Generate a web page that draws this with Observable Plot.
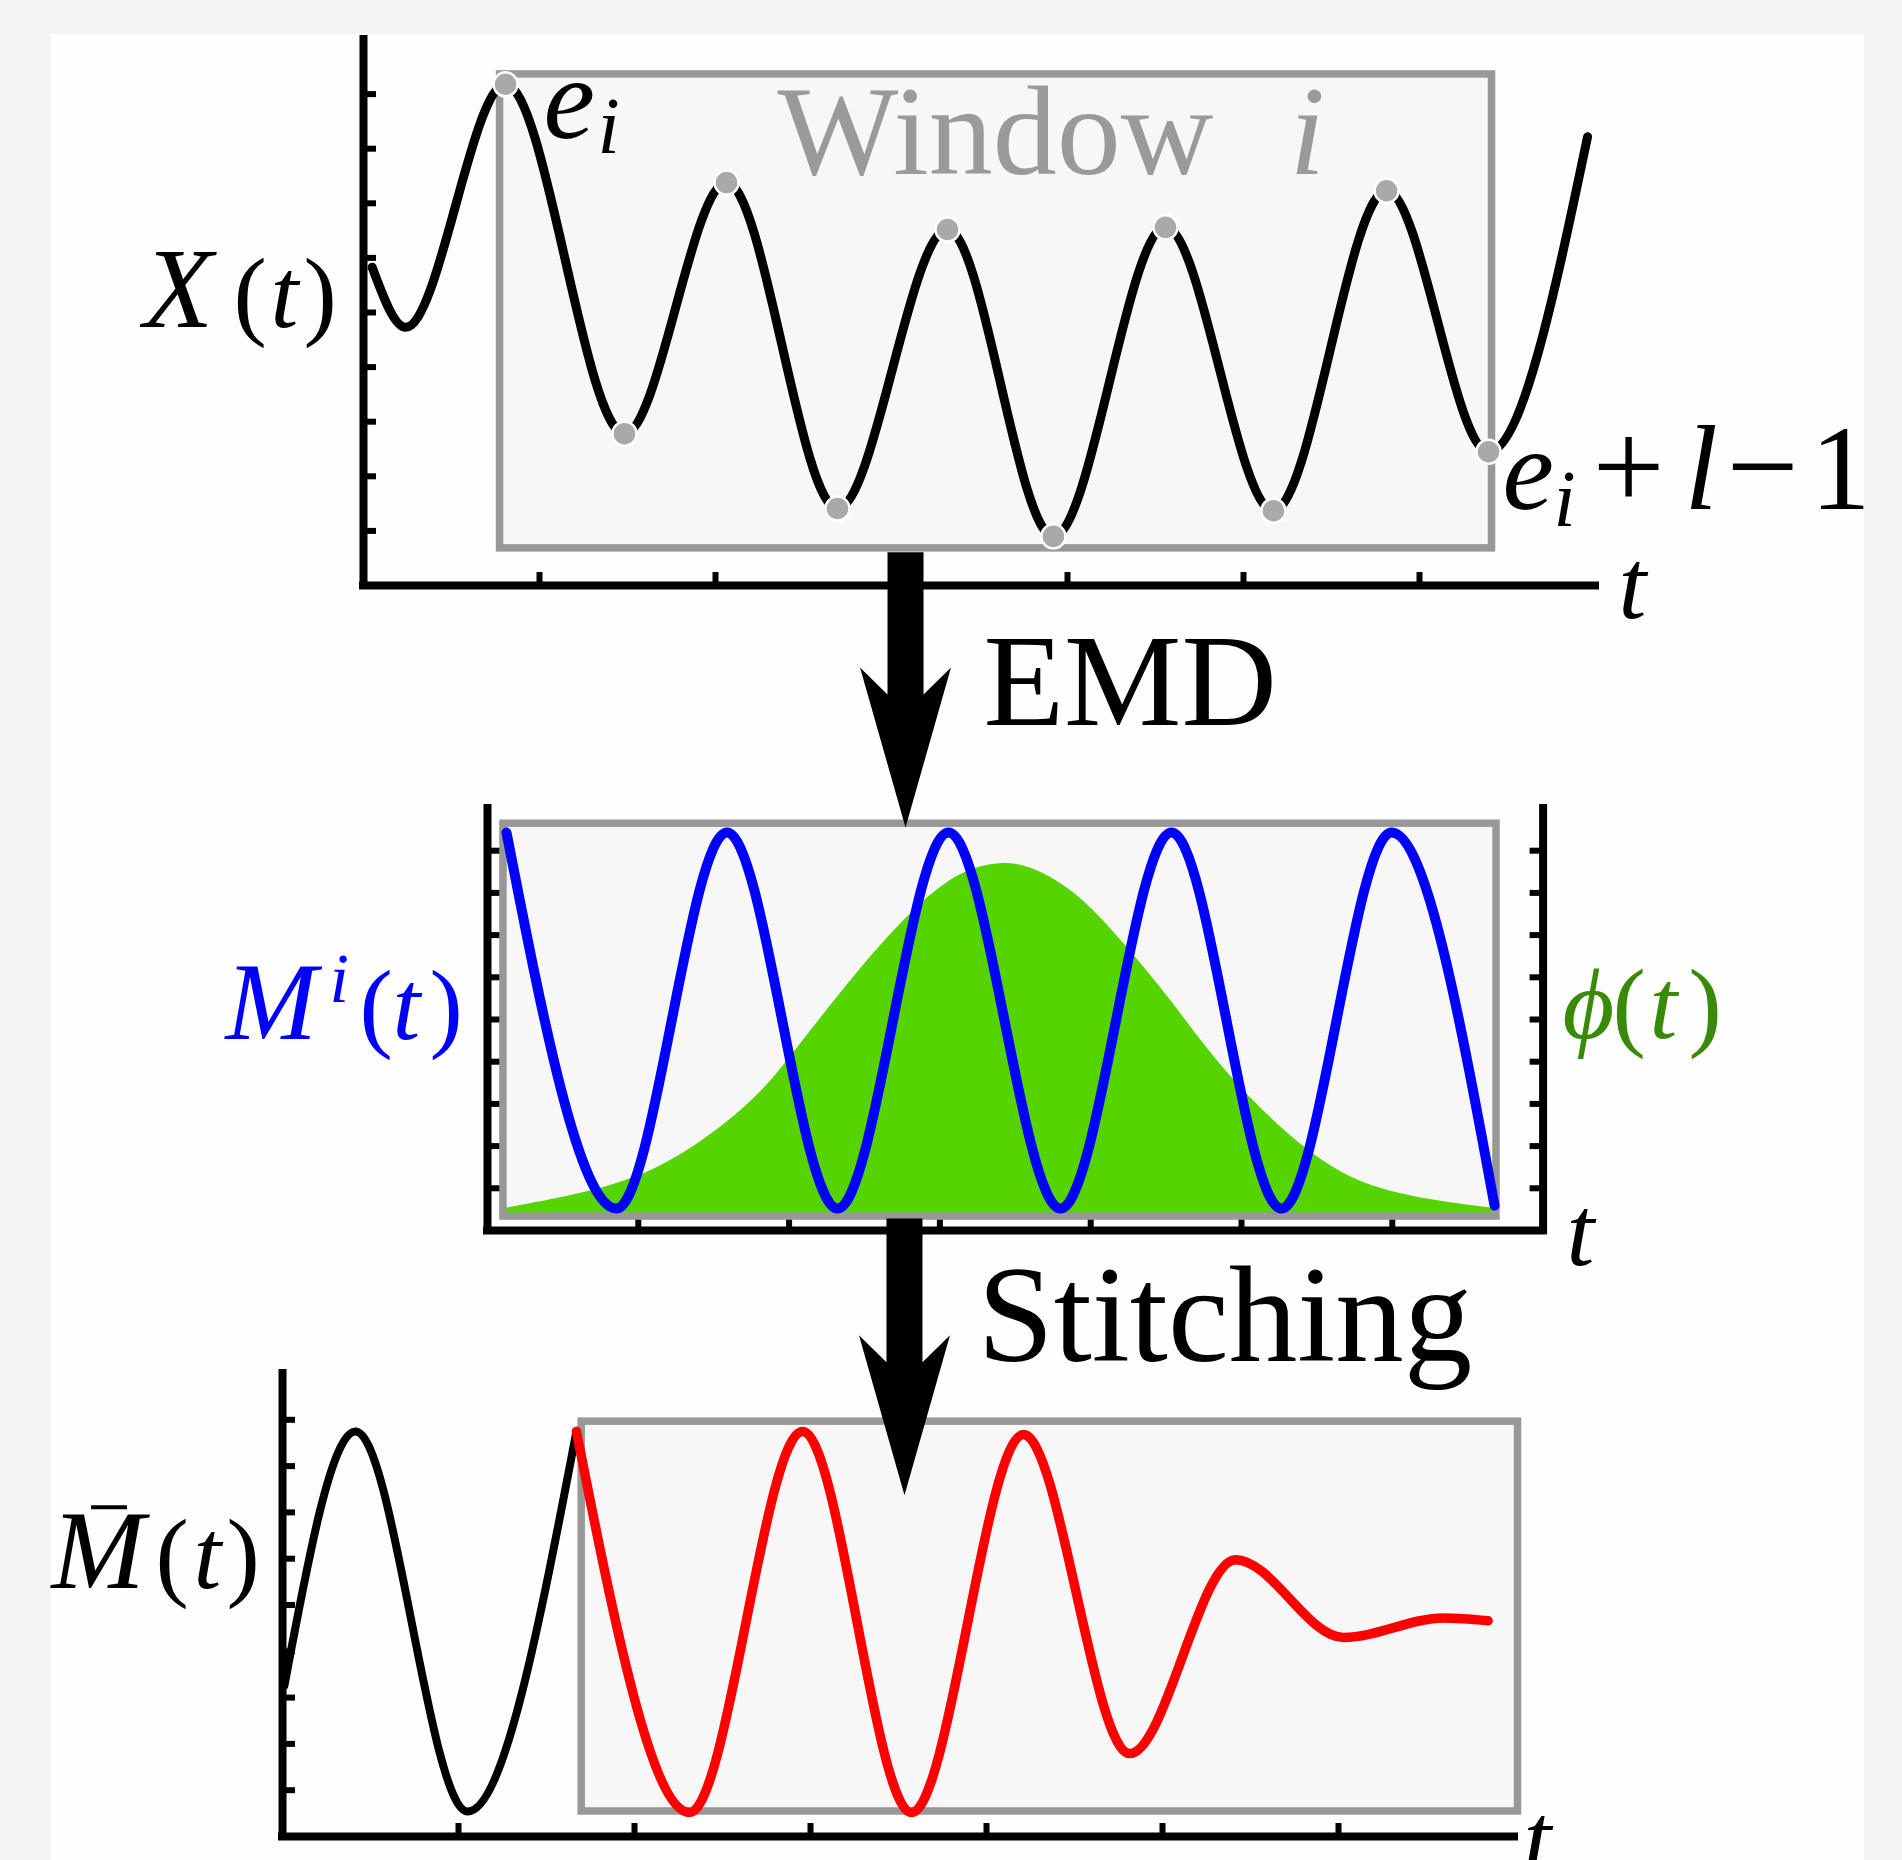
<!DOCTYPE html>
<html>
<head>
<meta charset="utf-8">
<script src="https://cdn.jsdelivr.net/npm/d3@7"></script>
<script src="https://cdn.jsdelivr.net/npm/@observablehq/plot@0.6"></script>
<style>
  html, body { margin: 0; padding: 0; background: #f4f4f4; }
  #page { position: relative; width: 1902px; height: 1860px; overflow: hidden; background: #f4f4f4; }
  #sheet { position: absolute; left: 51px; top: 34px; width: 1813px; height: 1826px; background: #fefefe; }
  .layer { position: absolute; left: 0; top: 0; width: 1902px; height: 1860px; }
  .layer svg { background: transparent !important; overflow: visible; max-width: none !important; }
</style>
</head>
<body>
<div id="page"><div id="sheet"></div></div>
<script>
// ---------------- data ----------------
const tTicks = [1, 2, 3, 4, 5, 6];
const yTicks = [1, 2, 3, 4, 5, 6, 7, 8, 9];

// Panel 1: signal X(t) (sampled at its turning points)
const signalT = [0.049, 0.239, 0.807, 1.483, 2.063, 2.693, 3.318, 3.920, 4.557, 5.170, 5.813, 6.392, 6.955];
const signalV = [5.83, 4.73, 9.18, 2.78, 7.38, 1.41, 6.52, 0.90, 6.56, 1.37, 7.23, 2.45, 8.22];
const windowFirst = 2;   // e_i
const windowLast = 11;   // e_i + l - 1
const windowTop = {t1: 0.776, t2: 6.412, y1: 0.68, y2: 9.36};

// Panel 2: IMF M^i(t) and weight phi(t)
const imfT = [0.126, 0.855, 1.588, 2.321, 3.057, 3.800, 4.536, 5.265, 5.995, 6.678];
const imfV = [9.43, 0.52, 9.43, 0.52, 9.43, 0.52, 9.43, 0.52, 9.43, 0.59];
const phiT = [0.113, 0.869, 1.326, 1.777, 2.009, 2.467, 2.878, 3.150, 3.402, 3.607, 3.926, 4.244, 4.523, 4.887, 5.431, 5.889, 6.678];
const phiV = [0.52, 1.02, 1.82, 3.08, 4.10, 6.23, 7.82, 8.53, 8.74, 8.65, 7.99, 6.71, 5.52, 3.72, 1.82, 0.88, 0.52];
const windowMid = {t1: 0.106, t2: 6.691, y1: 0.33, y2: 9.64};

// Panel 3: stitched mode
const prevT = [0.011, 0.415, 1.051, 1.670];
const prevV = [3.26, 8.75, 0.54, 8.75];
const stitchT = [1.670, 2.313, 2.955, 3.574, 4.210, 4.813, 5.415, 6.028, 6.600, 6.850];
const stitchV = [8.75, 0.52, 8.75, 0.52, 8.68, 1.79, 5.98, 4.30, 4.72, 4.66];
const windowBot = {t1: 1.70, t2: 7.02, y1: 0.54, y2: 8.96};

// ---------------- helpers ----------------
const W = 1902, H = 1860;
const SERIF = "'Liberation Serif', 'Times New Roman', serif";
const BOX_FILL = "#f7f7f7", BOX_STROKE = "#989898";
const zip = (ts, vs) => ts.map((t, i) => ({t, v: vs[i]}));

function panel(L, marks) {
  const svg = Plot.plot({
    width: W, height: H,
    marginLeft: L.left, marginRight: W - L.right, marginTop: L.top, marginBottom: H - L.bottom,
    x: {domain: [0, 7], axis: null},
    y: {domain: [0, 10], axis: null},
    marks
  });
  svg.style.background = "transparent";
  svg.style.overflow = "visible";
  const div = document.createElement("div");
  div.className = "layer";
  div.appendChild(svg);
  document.getElementById("page").appendChild(div);
  return svg;
}

function axes(L, right) {
  const fw = L.right - L.left, fh = L.bottom - L.top, len = 13;
  const tk = {stroke: "black", strokeWidth: 6};
  const ax = {stroke: "black", strokeWidth: 8, strokeLinecap: "square"};
  return [
    Plot.tickX(tTicks, {x: d => d, insetTop: fh - len, ...tk}),
    Plot.tickY(yTicks, {y: d => d, insetRight: fw - len, ...tk}),
    right ? Plot.tickY(yTicks, {y: d => d, insetLeft: fw - len, ...tk}) : null,
    Plot.ruleX([0], ax),
    right ? Plot.ruleX([7], ax) : null,
    Plot.ruleY([0], ax)
  ];
}

function label(x, y, fill, parts) {
  return parts.map(([s, dx, dy, size, italic]) =>
    Plot.text([{x, y, s}], {
      x: "x", y: "y", text: "s", dx, dy,
      fontSize: size, fontStyle: italic ? "italic" : "normal", fontFamily: SERIF,
      fill, textAnchor: "start", lineAnchor: "bottom"
    }));
}

// filled arrow pointing down, shaft from yTop to tip yTip (data units), sizes in px
function arrow(cx, yTop, yTip, kx, ky) {
  const sh = 18 / kx, hh = 45.5 / kx, corner = 160 / ky, notch = 133 / ky;
  const pts = [
    [cx - sh, yTop], [cx + sh, yTop], [cx + sh, yTip + notch], [cx + hh, yTip + corner],
    [cx, yTip], [cx - hh, yTip + corner], [cx - sh, yTip + notch]
  ].map(([x, y]) => ({x, y}));
  return Plot.line(pts, {x: "x", y: "y", fill: "black", stroke: "none", curve: "linear"});
}

// ---------------- panel 1 ----------------
const P1 = {left: 363, right: 1595, top: 39, bottom: 585};
const sig = zip(signalT, signalV);
panel(P1, [
  ...axes(P1, false),
  Plot.rect([windowTop], {x1: "t1", x2: "t2", y1: "y1", y2: "y2", fill: BOX_FILL, stroke: BOX_STROKE, strokeWidth: 7.5}),
  Plot.line(sig, {x: "t", y: "v", curve: "monotone-x", stroke: "black", strokeWidth: 9}),
  Plot.dot(sig.slice(windowFirst, windowLast + 1), {x: "t", y: "v", r: 12, fill: "#a9a9a9", stroke: "white", strokeWidth: 2.5}),
  ...label(2.352, 7.53, "#9a9a9a", [["Window", 0, 0, 128, false], ["i", 512, 0, 128, true]]),
  ...label(1.023, 8.19, "black", [["e", 0, 0, 116, true], ["i", 54, 15, 80, true]]),
  ...label(6.472, 1.41, "black", [
    ["e", 0, 0, 116, true], ["i", 51, 17, 80, true], ["+", 90, 0, 128, false],
    ["l", 182, 0, 120, true], ["\u2212", 224, 0, 128, false], ["1", 308, 0, 120, false]
  ]),
  ...label(-1.25, 4.74, "black", [["X", 0, 0, 114, true], ["(", 90, 0, 100, false], ["t", 127, 0, 100, true], [")", 160, 0, 100, false]]),
  ...label(7.131, -0.60, "black", [["t", 0, 0, 100, true]])
]);

// ---------------- panel 2 ----------------
const P2 = {left: 487, right: 1542.6, top: 808, bottom: 1230};
const k2x = (P2.right - P2.left) / 7, k2y = (P2.bottom - P2.top) / 10;
panel(P2, [
  ...axes(P2, true),
  Plot.rect([windowMid], {x1: "t1", x2: "t2", y1: "y1", y2: "y2", fill: BOX_FILL}),
  Plot.areaY(zip(phiT, phiV), {x: "t", y1: windowMid.y1, y2: "v", fill: "#55d400", curve: "basis"}),
  Plot.rect([windowMid], {x1: "t1", x2: "t2", y1: "y1", y2: "y2", fill: "none", stroke: BOX_STROKE, strokeWidth: 7.5}),
  Plot.line(zip(imfT, imfV), {x: "t", y: "v", curve: "monotone-x", stroke: "#0000ff", strokeWidth: 10}),
  arrow(2.772, 16.07, 9.55, k2x, k2y),
  ...label(3.289, 11.99, "black", [["EMD", 0, 0, 132, false]]),
  ...label(-1.737, 4.53, "#0000ff", [["M", 0, 0, 110, true], ["i", 104, -37, 70, true], ["(", 134, 0, 100, false], ["t", 167, 0, 100, true], [")", 204, 0, 100, false]]),
  ...label(7.129, 4.57, "#3a8a0a", [["\u03D5", 0, 0, 100, true], ["(", 50, 0, 100, false], ["t", 87, 0, 100, true], [")", 126, 0, 100, false]]),
  ...label(7.155, -0.81, "black", [["t", 0, 0, 100, true]])
]);

// ---------------- panel 3 ----------------
const P3 = {left: 282, right: 1514, top: 1373, bottom: 1836};
const k3x = (P3.right - P3.left) / 7, k3y = (P3.bottom - P3.top) / 10;
panel(P3, [
  ...axes(P3, false),
  Plot.rect([windowBot], {x1: "t1", x2: "t2", y1: "y1", y2: "y2", fill: BOX_FILL, stroke: BOX_STROKE, strokeWidth: 7.5}),
  arrow(3.534, 13.35, 7.37, k3x, k3y),
  ...label(3.949, 10.26, "black", [["Stitching", 0, 0, 137, false]]),
  Plot.line(zip(prevT, prevV), {x: "t", y: "v", curve: "monotone-x", stroke: "black", strokeWidth: 8}),
  Plot.line(zip(stitchT, stitchV), {x: "t", y: "v", curve: "monotone-x", stroke: "#ff0000", strokeWidth: 9.5}),
  // bar over M
  Plot.ruleY([7.11], {x1: -1.085, x2: -0.881, stroke: "black", strokeWidth: 4}),
  ...label(-1.3125, 5.36, "black", [["M", 0, 0, 112, true], ["(", 104, 0, 100, false], ["t", 142, 0, 100, true], [")", 175, 0, 100, false]]),
  ...label(7.051, -0.76, "black", [["t", 0, 0, 100, true]])
]);
</script>
</body>
</html>
